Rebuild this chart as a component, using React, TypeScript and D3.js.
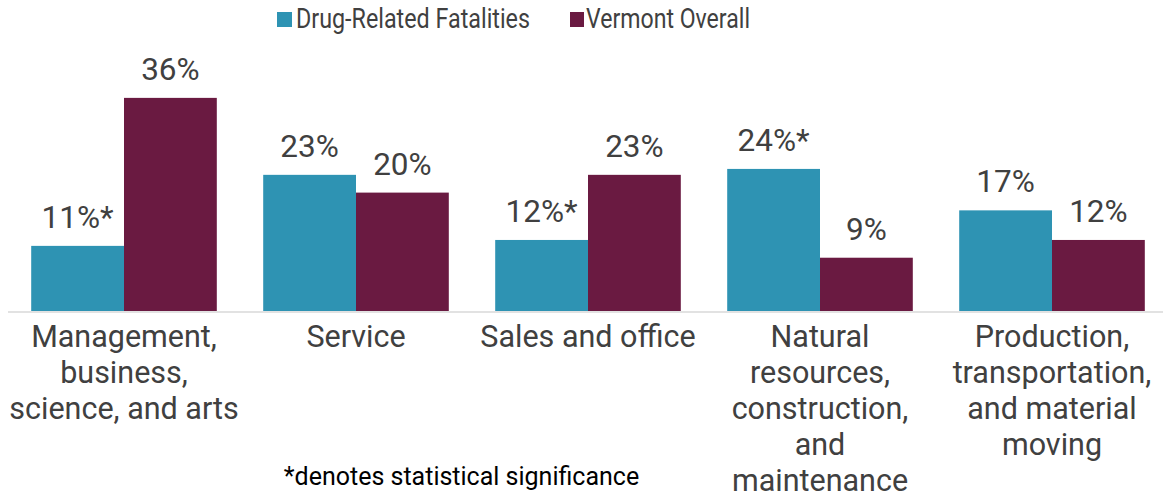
import React from "react";
import * as d3 from "d3";

const categories: string[][] = [
  ["Management,", "business,", "science, and arts"],
  ["Service"],
  ["Sales and office"],
  ["Natural", "resources,", "construction,", "and", "maintenance"],
  ["Production,", "transportation,", "and material", "moving"],
];
const seriesNames = ["Drug-Related Fatalities", "Vermont Overall"];
const drugRelated = [11, 23, 12, 24, 17];
const vermontOverall = [36, 20, 23, 9, 12];
const significant = [true, false, true, true, false];
const footnote = "*denotes statistical significance";

const COLORS = ["#2E93B3", "#6A1A41"];
const W = 1163;
const H = 496;
const FONT = "Roboto, 'Open Sans', sans-serif";

export default function App() {
  const keys = categories.map((c) => c.join(" "));
  const x = d3.scaleBand<string>().domain(keys).range([8, 1168]).paddingInner(0.2).paddingOuter(0.1);
  const inner = d3.scaleBand<number>().domain([0, 1]).range([0, x.bandwidth()]);
  const y = d3.scaleLinear().domain([0, 40]).range([311, 74.2]);
  const series = [drugRelated, vermontOverall];

  return (
    <svg width={W} height={H} style={{ position: "absolute", left: 0, top: 0, background: "#fff" }} fontFamily={FONT}>
      {/* legend */}
      <g>
        <rect x={277} y={12} width={15} height={15} fill={COLORS[0]} />
        <text x={296} y={28} fontSize={28.5} fill="#404040" textLength={234} lengthAdjust="spacingAndGlyphs">{seriesNames[0]}</text>
        <rect x={570} y={12} width={14} height={15} fill={COLORS[1]} />
        <text x={586} y={28} fontSize={28.5} fill="#404040" textLength={164} lengthAdjust="spacingAndGlyphs">{seriesNames[1]}</text>
      </g>
      {/* bars */}
      {keys.map((k, i) => (
        <g key={k}>
          {series.map((s, j) => {
            const bx = (x(k) as number) + (inner(j) as number);
            const bw = inner.bandwidth();
            const label = `${s[i]}%${j === 0 && significant[i] ? "*" : ""}`;
            return (
              <g key={j}>
                <rect x={bx} y={y(s[i])} width={bw} height={y(0) - y(s[i])} fill={COLORS[j]} />
                <text x={bx + bw / 2} y={y(s[i]) - 18} textAnchor="middle" fontSize={31.5} fill="#404040">
                  {label}
                </text>
              </g>
            );
          })}
        </g>
      ))}
      {/* axis line */}
      <line x1={8} x2={W} y1={312} y2={312} stroke="#D9D9D9" strokeWidth={1.5} />
      {/* category labels */}
      {categories.map((lines, i) => (
        <text key={i} textAnchor="middle" fontSize={30.5} fill="#404040">
          {lines.map((ln, li) => (
            <tspan key={li} x={(x(keys[i]) as number) + x.bandwidth() / 2} y={347 + li * 36}>
              {ln}
            </tspan>
          ))}
        </text>
      ))}
      {/* footnote */}
      <text x={461.5} y={485} textAnchor="middle" fontSize={25} fill="#000">{footnote}</text>
    </svg>
  );
}
